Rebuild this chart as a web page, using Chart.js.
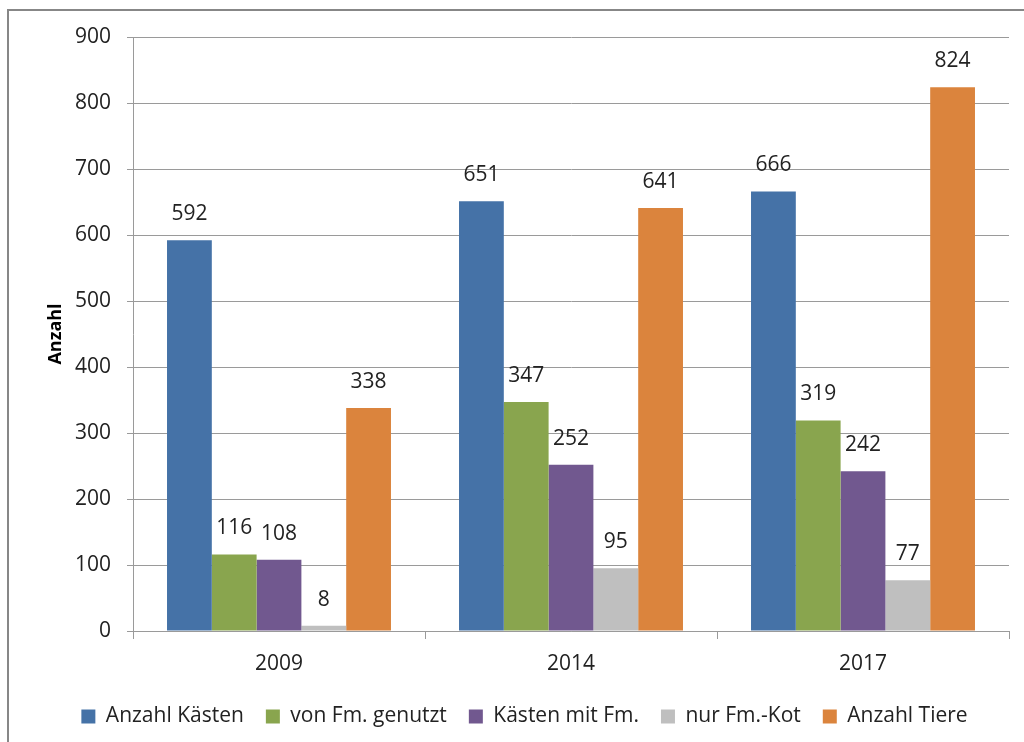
<!DOCTYPE html>
<html>
<head>
<meta charset="utf-8">
<script src="https://cdn.jsdelivr.net/npm/chart.js@4"></script>
<style>
  html, body { margin: 0; padding: 0; background: #fff; }
  #wrap { position: relative; width: 1024px; height: 742px; }
</style>
</head>
<body>
<div id="wrap"><canvas id="chart" width="1024" height="742"></canvas></div>
<script>
// Jahre (Kategorien)
const years = ["2009", "2014", "2017"];

// Werte je Reihe
const anzahlKaesten = [592, 651, 666];
const vonFmGenutzt = [116, 347, 319];
const kaestenMitFm = [108, 252, 242];
const nurFmKot = [8, 95, 77];
const anzahlTiere = [338, 641, 824];

// Y-Achse
const yTicks = [0, 100, 200, 300, 400, 500, 600, 700, 800, 900];

const FONT = "'Open Sans', 'Noto Sans', sans-serif";

// frame round the whole chart
const framePlugin = {
  id: "frame",
  beforeDraw(chart) {
    const ctx = chart.ctx;
    ctx.save();
    ctx.fillStyle = "#fff";
    ctx.fillRect(0, 0, chart.width, chart.height);
    ctx.strokeStyle = "#878787";
    ctx.lineWidth = 2;
    ctx.strokeRect(8, 10, 1100, 800);
    ctx.restore();
  },
};

// value labels above the bars
const valueLabels = {
  id: "valueLabels",
  afterDatasetsDraw(chart) {
    const ctx = chart.ctx;
    ctx.save();
    ctx.font = "21px " + FONT;
    ctx.fillStyle = "#222";
    ctx.textAlign = "center";
    ctx.textBaseline = "middle";
    chart.data.datasets.forEach((ds, i) => {
      chart.getDatasetMeta(i).data.forEach((bar, j) => {
        ctx.fillText(ds.data[j], bar.x, bar.y - 26);
      });
    });
    ctx.restore();
  },
};

new Chart(document.getElementById("chart").getContext("2d"), {
  type: "bar",
  data: {
    labels: years,
    datasets: [
      { label: "Anzahl Kästen", data: anzahlKaesten, backgroundColor: "#4572A7" },
      { label: "von Fm. genutzt", data: vonFmGenutzt, backgroundColor: "#89A54E" },
      { label: "Kästen mit Fm.", data: kaestenMitFm, backgroundColor: "#71588F" },
      { label: "nur Fm.-Kot", data: nurFmKot, backgroundColor: "#BFBFBF" },
      { label: "Anzahl Tiere", data: anzahlTiere, backgroundColor: "#DB843D" },
    ],
  },
  options: {
    responsive: false,
    maintainAspectRatio: false,
    animation: false,
    datasets: {
      bar: {
        categoryPercentage: 0.767,
        barPercentage: 1.0,
      },
    },
    layout: {
      padding: { left: 40, right: 15, top: 37, bottom: 5 },
    },
    plugins: {
      legend: {
        display: true,
        position: "bottom",
        labels: {
          color: "#222",
          font: { family: FONT, size: 21 },
          boxWidth: 14,
          boxHeight: 14,
          padding: 22,
        },
      },
      tooltip: { enabled: false },
    },
    scales: {
      x: {
        grid: {
          offset: true,
          drawOnChartArea: false,
          drawTicks: true,
          tickLength: 8,
          color: "#9a9a9a",
        },
        border: { color: "#9a9a9a", width: 1 },
        ticks: {
          color: "#222",
          font: { family: FONT, size: 21 },
          padding: 12,
        },
        afterFit(scale) {
          scale.height = 53;
        },
      },
      y: {
        min: 0,
        max: 900,
        afterBuildTicks(scale) {
          scale.ticks = yTicks.map(v => ({ value: v }));
        },
        grid: {
          color: "#9a9a9a",
          tickLength: 6,
        },
        border: { color: "#9a9a9a", width: 1 },
        ticks: {
          color: "#222",
          font: { family: FONT, size: 21 },
          padding: 16,
        },
        title: {
          display: true,
          text: "Anzahl",
          color: "#000",
          font: { family: FONT, size: 18, weight: "bold" },
          padding: { top: 5, bottom: 0 },
        },
        afterFit(scale) {
          scale.width = 93;
        },
      },
    },
  },
  plugins: [framePlugin, valueLabels],
});
</script>
</body>
</html>
